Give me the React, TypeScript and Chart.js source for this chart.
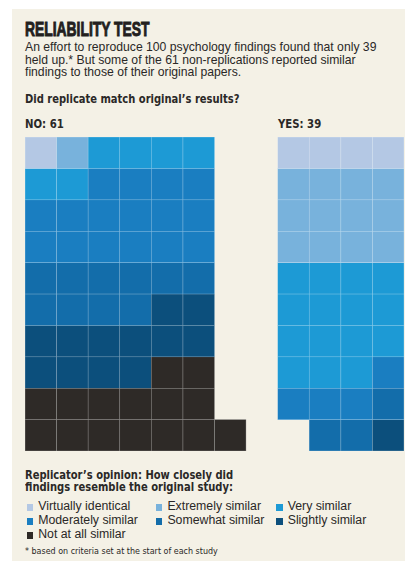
import React, { useEffect, useRef } from 'react';
import { Chart, registerables } from 'chart.js';

Chart.register(...registerables);

// ---- data ----
const levels = [
  'Virtually identical',
  'Extremely similar',
  'Very similar',
  'Moderately similar',
  'Somewhat similar',
  'Slightly similar',
  'Not at all similar',
];
const levelColors = ['#b4c8e4', '#78b2dc', '#1d9ad5', '#1a7ec1', '#136daa', '#0c4f7c', '#2e2a27'];
const noCounts = [1, 1, 6, 16, 10, 12, 15]; // 61
const yesCounts = [4, 12, 15, 4, 3, 1, 0]; // 39
const groupLabels = ['NO: 61', 'YES: 39'];
const columnLabels = ['N1', 'N2', 'N3', 'N4', 'N5', 'N6', 'N7', '', 'Y1', 'Y2', 'Y3', 'Y4'];
const rowCount = 10;
const noPerRow = 6;
const yesPerRow = 4;
const yesFirstColumn = 8;

const TEXT = '#2a2827';
const SANS = '"Liberation Sans", Arial, sans-serif';
const COND = '"DejaVu Sans Condensed", "Liberation Sans Narrow", sans-serif';

function expand(counts: number[]): number[] {
  const out: number[] = [];
  counts.forEach((c, k) => {
    for (let i = 0; i < c; i++) out.push(k);
  });
  return out;
}

function lighten(hex: string, amt: number): string {
  const n = parseInt(hex.slice(1), 16);
  const r = (n >> 16) & 255, g = (n >> 8) & 255, b = n & 255;
  const m = (v: number) => Math.round(v + (255 - v) * amt);
  return `rgb(${m(r)},${m(g)},${m(b)})`;
}

function buildDatasets() {
  const data: (number[] | null)[][] = [];
  const bg: string[][] = [];
  const bd: string[][] = [];
  for (let r = 0; r < rowCount; r++) {
    data.push(columnLabels.map(() => null));
    bg.push(columnLabels.map(() => 'rgba(0,0,0,0)'));
    bd.push(columnLabels.map(() => 'rgba(0,0,0,0)'));
  }
  const place = (row: number, col: number, level: number) => {
    data[row][col] = [rowCount - 1 - row, rowCount - row];
    bg[row][col] = levelColors[level];
    bd[row][col] = lighten(levelColors[level], 0.45);
  };
  const noCells = expand(noCounts);
  noCells.forEach((lv, i) => {
    const row = Math.min(Math.floor(i / noPerRow), rowCount - 1);
    const col = i - row * noPerRow;
    place(row, col, lv);
  });
  const yesCells = expand(yesCounts);
  yesCells.forEach((lv, i) => {
    const row = Math.floor(i / yesPerRow);
    const start = row * yesPerRow;
    const inRow = Math.min(yesPerRow, yesCells.length - start);
    const col = i - start + (yesPerRow - inRow);
    place(row, yesFirstColumn + col, lv);
  });
  return data.map((d, r) => ({
    label: `row ${r + 1}`,
    data: d,
    backgroundColor: bg[r],
    borderColor: bd[r],
    borderWidth: 0.6,
    borderSkipped: false,
    barPercentage: 1,
    categoryPercentage: 1,
  }));
}

function top(baseline: number, size: number, lh: number) {
  return baseline - ((lh - 1.117 * size) / 2 + 0.905 * size);
}

function Text(props: {
  x: number; baseline: number; size: number; lh?: number; bold?: boolean; font?: string;
  children: React.ReactNode; scaleX?: number; color?: string; stroke?: number;
}) {
  const lh = props.lh ?? props.size;
  const color = props.color ?? TEXT;
  return (
    <div
      style={{
        position: 'absolute',
        left: props.x,
        top: top(props.baseline, props.size, lh),
        fontFamily: props.font ?? SANS,
        fontSize: props.size,
        lineHeight: `${lh}px`,
        fontWeight: props.bold ? 700 : 400,
        color,
        whiteSpace: 'nowrap',
        transform: props.scaleX ? `scaleX(${props.scaleX})` : undefined,
        transformOrigin: 'left top',
        WebkitTextStroke: props.stroke ? `${props.stroke}px ${color}` : undefined,
      }}
    >
      {props.children}
    </div>
  );
}

export default function App() {
  const canvasRef = useRef<HTMLCanvasElement>(null);

  useEffect(() => {
    if (!canvasRef.current) return;
    const chart = new Chart(canvasRef.current, {
      type: 'bar',
      data: { labels: columnLabels, datasets: buildDatasets() as any },
      options: {
        animation: false,
        responsive: true,
        maintainAspectRatio: false,
        layout: { padding: 0 },
        plugins: { legend: { display: false }, tooltip: { enabled: false } },
        scales: {
          x: { display: false, stacked: true, grid: { display: false } },
          y: { display: false, stacked: false, min: 0, max: rowCount, grid: { display: false } },
        },
      },
    });
    return () => chart.destroy();
  }, []);

  const legendCols = [26.5, 155.7, 276];
  const legendBaselines = [511, 525, 538.7];
  const hs = 0.9;

  return (
    <div style={{ position: 'absolute', left: 0, top: 0, width: 405, height: 561, overflow: 'hidden' }}>
      <div style={{ position: 'absolute', left: 12, top: 9, width: 393, height: 552, background: '#f4f1e6' }} />
      <Text x={24.8} baseline={36} size={21} bold scaleX={0.66} stroke={1} color="#231f1e">RELIABILITY TEST</Text>
      <Text x={25} baseline={51.7} size={12.2} lh={12.5}>
        An effort to reproduce 100 psychology findings found that only 39
      </Text>
      <Text x={25} baseline={64.2} size={12.2} lh={12.5}>
        held up.* But some of the 61 non-replications reported similar
      </Text>
      <Text x={25} baseline={76.7} size={12.2} lh={12.5}>
        findings to those of their original papers.
      </Text>
      <Text x={25} baseline={103.7} size={12.3} bold font={COND} scaleX={hs}>Did replicate match original’s results?</Text>
      <Text x={25} baseline={128.3} size={12.5} bold font={COND} scaleX={hs}>{groupLabels[0]}</Text>
      <Text x={278.3} baseline={128.3} size={12.5} bold font={COND} scaleX={hs}>{groupLabels[1]}</Text>

      <div style={{ position: 'absolute', left: 25, top: 137, width: 379, height: 314 }}>
        <canvas ref={canvasRef} />
      </div>

      <Text x={25} baseline={479} size={12.3} bold font={COND} scaleX={hs}>Replicator’s opinion: How closely did</Text>
      <Text x={25} baseline={491.5} size={12.3} bold font={COND} scaleX={hs}>findings resemble the original study:</Text>

      {levels.map((lv, i) => {
        const col = i % 3;
        const row = Math.floor(i / 3);
        const x = legendCols[col];
        const b = legendBaselines[row];
        return (
          <React.Fragment key={lv}>
            <div
              style={{
                position: 'absolute',
                left: x,
                top: b - 6.8,
                width: 6.8,
                height: 6.8,
                background: levelColors[i],
              }}
            />
            <Text x={x + 11.7} baseline={b} size={12.3} lh={13}>{lv}</Text>
          </React.Fragment>
        );
      })}

      <Text x={25} baseline={554.3} size={8.9} font={COND}>* based on criteria set at the start of each study</Text>
    </div>
  );
}
